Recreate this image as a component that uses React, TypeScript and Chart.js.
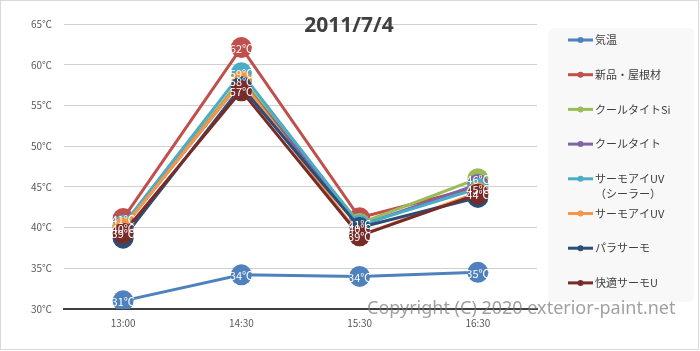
import React, { useEffect, useRef } from "react";
import { Chart, registerables } from "chart.js";

Chart.register(...registerables);

const TITLE = "2011/7/4";
const COPYRIGHT = "Copyright (C) 2020 exterior-paint.net";

const categories = ["13:00", "14:30", "15:30", "16:30"];
const seriesNames = [
  "気温",
  "新品・屋根材",
  "クールタイトSi",
  "クールタイト",
  "サーモアイUV\n（シーラー）",
  "サーモアイUV",
  "パラサーモ",
  "快適サーモU",
];

const kion = [31.0, 34.2, 34.0, 34.5];
const shinpinYane = [41.1, 62.1, 41.2, 45.0];
const coolTightSi = [40.2, 58.3, 40.5, 46.0];
const coolTight = [40.0, 58.0, 40.2, 45.3];
const thermoEyeSealer = [40.3, 59.0, 40.3, 44.8];
const thermoEye = [40.0, 58.0, 39.0, 44.3];
const paraThermo = [38.7, 57.3, 40.0, 43.7];
const kaitekiThermo = [39.3, 56.8, 39.0, 44.1];

const seriesValues = [
  kion,
  shinpinYane,
  coolTightSi,
  coolTight,
  thermoEyeSealer,
  thermoEye,
  paraThermo,
  kaitekiThermo,
];

const seriesColors = [
  "#4F81BD",
  "#C0504D",
  "#9BBB59",
  "#8064A2",
  "#4BACC6",
  "#F79646",
  "#2C4D75",
  "#772C2A",
];

const yMin = 30;
const yMax = 65;
const yStep = 5;
const unit = "℃";

const FONT = '"Noto Sans CJK JP", "Noto Sans", sans-serif';

const decorPlugin = {
  id: "decor",
  beforeDraw(chart: any) {
    const { ctx, width, height } = chart;
    ctx.save();
    ctx.fillStyle = "#ffffff";
    ctx.fillRect(0, 0, width, height);
    ctx.strokeStyle = "#d9d9d9";
    ctx.lineWidth = 1;
    ctx.strokeRect(0.5, 0.5, width - 2, height - 2);
    // legend box
    const lx = 548, ly = 28, lw = 146, lh = 274, r = 6;
    ctx.fillStyle = "#f8f8f8";
    ctx.beginPath();
    ctx.moveTo(lx + r, ly);
    ctx.lineTo(lx + lw - r, ly);
    ctx.quadraticCurveTo(lx + lw, ly, lx + lw, ly + r);
    ctx.lineTo(lx + lw, ly + lh - r);
    ctx.quadraticCurveTo(lx + lw, ly + lh, lx + lw - r, ly + lh);
    ctx.lineTo(lx + r, ly + lh);
    ctx.quadraticCurveTo(lx, ly + lh, lx, ly + lh - r);
    ctx.lineTo(lx, ly + r);
    ctx.quadraticCurveTo(lx, ly, lx + r, ly);
    ctx.fill();
    ctx.restore();
  },
  afterDatasetsDraw(chart: any) {
    const { ctx } = chart;
    ctx.save();
    ctx.fillStyle = "#ffffff";
    ctx.font = `11px ${FONT}`;
    ctx.textAlign = "center";
    ctx.textBaseline = "middle";
    const drawn: Set<number>[] = categories.map(() => new Set<number>());
    const dss = chart.data.datasets;
    for (let i = dss.length - 1; i >= 0; i--) {
      const meta = chart.getDatasetMeta(i);
      meta.data.forEach((pt: any, j: number) => {
        const r = Math.round(dss[i].data[j]);
        if (drawn[j].has(r)) return;
        drawn[j].add(r);
        ctx.fillText(`${r}${unit}`, pt.x, pt.y + 1);
      });
    }
    ctx.restore();
  },
  afterDraw(chart: any) {
    const { ctx } = chart;
    ctx.save();
    // title
    ctx.fillStyle = "#404040";
    ctx.font = `bold 21px "Noto Sans", sans-serif`;
    ctx.textAlign = "center";
    ctx.textBaseline = "middle";
    ctx.fillText(TITLE, 349, 26);

    // legend
    ctx.textAlign = "left";
    ctx.font = `11px ${FONT}`;
    chart.data.datasets.forEach((ds: any, i: number) => {
      const y = 40 + i * 34.7;
      ctx.strokeStyle = ds.borderColor;
      ctx.lineWidth = 3;
      ctx.beginPath();
      ctx.moveTo(568, y);
      ctx.lineTo(593, y);
      ctx.stroke();
      ctx.fillStyle = ds.borderColor;
      ctx.beginPath();
      ctx.arc(580.5, y, 3, 0, Math.PI * 2);
      ctx.fill();
      ctx.fillStyle = "#404040";
      const lines = String(ds.label).split("\n");
      lines.forEach((t: string, k: number) => {
        ctx.fillText(t, 595, y + k * 15);
      });
    });

    // copyright
    ctx.fillStyle = "rgba(120,120,120,0.7)";
    ctx.font = `18px "Noto Sans", sans-serif`;
    ctx.textAlign = "left";
    ctx.textBaseline = "middle";
    ctx.fillText(COPYRIGHT, 367, 309);
    ctx.restore();
  },
};

export default function App() {
  const canvasRef = useRef<HTMLCanvasElement | null>(null);

  useEffect(() => {
    document.body.style.margin = "0";
    const canvas = canvasRef.current;
    if (!canvas) return;
    const n = seriesValues.length;
    const chart = new Chart(canvas, {
      type: "line",
      data: {
        labels: categories,
        datasets: seriesValues.map((vals, i) => ({
          label: seriesNames[i],
          data: vals,
          borderColor: seriesColors[i],
          backgroundColor: seriesColors[i],
          pointBackgroundColor: seriesColors[i],
          pointBorderColor: seriesColors[i],
          pointBorderWidth: 0,
          pointRadius: 10.5,
          borderWidth: 3,
          tension: 0,
          fill: false,
          order: n - i,
        })),
      },
      options: {
        responsive: false,
        animation: false,
        devicePixelRatio: 1,
        layout: { padding: { top: 24, right: 163, left: 0, bottom: 0 } },
        plugins: {
          legend: { display: false },
          title: { display: false },
          tooltip: { enabled: false },
        },
        scales: {
          x: {
            offset: true,
            grid: { display: false, drawTicks: false },
            border: { display: true, color: "#404040", width: 2 },
            ticks: {
              font: { size: 10, family: FONT },
              color: "#595959",
              padding: 8,
              maxRotation: 0,
            },
            afterFit: (s: any) => {
              s.height = 42;
            },
          },
          y: {
            min: yMin,
            max: yMax,
            ticks: {
              stepSize: yStep,
              callback: (v: any) => `${v}${unit}`,
              font: { size: 10, family: FONT },
              color: "#595959",
              padding: 12,
            },
            grid: { color: "#d0d0d0", drawTicks: false },
            border: { display: false },
            afterFit: (s: any) => {
              s.width = 64;
            },
          },
        },
      },
      plugins: [decorPlugin],
    });
    return () => chart.destroy();
  }, []);

  return (
    <canvas
      ref={canvasRef}
      width={700}
      height={351}
      style={{ display: "block", width: 700, height: 351 }}
    />
  );
}
